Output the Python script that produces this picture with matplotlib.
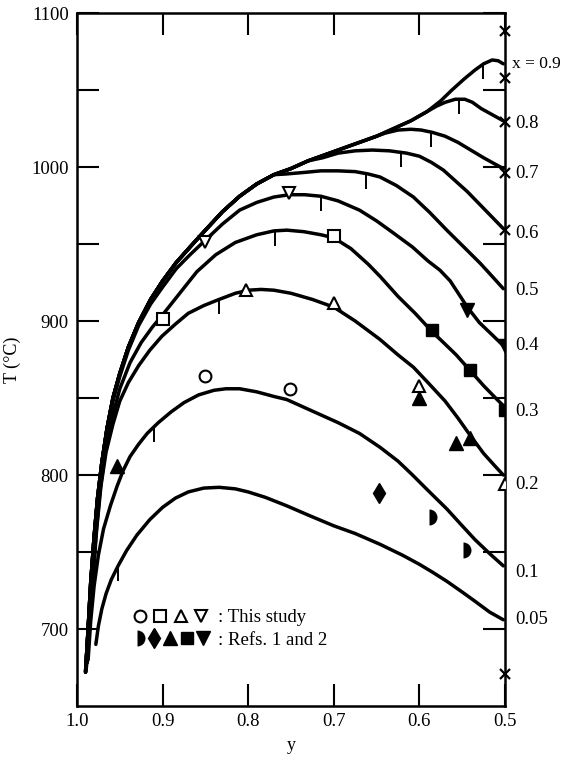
import numpy as np
import matplotlib
matplotlib.use("Agg")
import matplotlib.pyplot as plt
from matplotlib import transforms
from matplotlib.legend_handler import HandlerTuple

# ---------------- data ----------------
x_labels = ["x = 0.9", "0.8", "0.7", "0.6", "0.5", "0.4", "0.3", "0.2", "0.1", "0.05"]

# shared rising branch of the high-x curves
y_env = [0.990, 0.987, 0.984, 0.980, 0.976, 0.971, 0.965, 0.958, 0.950, 0.940, 0.928,
         0.914, 0.900, 0.884, 0.868, 0.850, 0.830, 0.810, 0.790, 0.770]
T_env = [672, 700, 730, 760, 785, 808, 830, 850, 866, 883, 899,
         914, 926, 938, 948, 959, 971, 981, 989, 995]

y_mid = [0.750, 0.730, 0.710, 0.690, 0.670, 0.650]
T_mid = [999, 1004, 1008, 1012, 1016, 1020]

y_x09 = y_env + y_mid + [0.630, 0.610, 0.591, 0.575, 0.562, 0.548, 0.535, 0.525, 0.515, 0.508, 0.502]
T_x09 = T_env + T_mid + [1025, 1030, 1036, 1043, 1050, 1057, 1063, 1067, 1069.5, 1069, 1067]

y_x08 = y_env + y_mid + [0.630, 0.610, 0.591, 0.580, 0.570, 0.558, 0.547, 0.538, 0.528, 0.515, 0.502]
T_x08 = T_env + T_mid + [1025, 1030, 1036, 1039.5, 1042, 1044, 1044, 1042, 1038, 1034, 1030]

y_x07 = y_env + y_mid + [0.640, 0.625, 0.610, 0.598, 0.585, 0.570, 0.555, 0.540, 0.525, 0.512, 0.502]
T_x07 = T_env + T_mid + [1022, 1024, 1024.5, 1024, 1022.5, 1020, 1016, 1011, 1006, 1002, 999]

y_x06 = y_env + [0.750, 0.730, 0.713, 0.695, 0.675, 0.655, 0.635, 0.615, 0.600, 0.586,
                 0.572, 0.558, 0.544, 0.530, 0.516, 0.502]
T_x06 = T_env + [999, 1004, 1006, 1009, 1010.5, 1011, 1010.5, 1009, 1007, 1003,
                 998, 991, 984, 976, 968, 960]

y_x05 = y_env + [0.755, 0.734, 0.715, 0.695, 0.675, 0.660, 0.646, 0.627, 0.607, 0.588,
                 0.568, 0.548, 0.529, 0.515, 0.502]
T_x05 = T_env + [995.5, 996.5, 997.5, 997.5, 997, 995.5, 993.5, 988, 980.5, 970.5,
                 959, 948, 937.5, 929, 921]

y_x04 = [0.990, 0.987, 0.984, 0.980, 0.976, 0.971, 0.965, 0.958, 0.950, 0.940, 0.928, 0.914,
         0.900, 0.884, 0.868, 0.851, 0.830, 0.810, 0.790, 0.770, 0.752, 0.734, 0.715, 0.695,
         0.670, 0.650, 0.630, 0.608, 0.590, 0.576, 0.564, 0.544, 0.530, 0.515, 0.502]
T_x04 = [673, 700, 728, 758, 783, 806, 828, 848, 864, 881, 897, 911,
         922, 934, 943, 952, 963, 972, 977, 980.5, 982, 982, 981, 978,
         972, 965, 957, 948, 939, 933, 926, 909, 899, 891, 884]

y_x03 = [0.989, 0.986, 0.982, 0.978, 0.973, 0.967, 0.960, 0.950, 0.938, 0.925, 0.912, 0.900,
         0.880, 0.860, 0.838, 0.815, 0.790, 0.770, 0.755, 0.735, 0.715, 0.700, 0.680, 0.660,
         0.646, 0.625, 0.605, 0.585, 0.570, 0.557, 0.541, 0.525, 0.511, 0.502]
T_x03 = [675, 700, 730, 760, 790, 815, 835, 856, 873, 886, 896, 904,
         918, 932, 943, 951, 956, 958.5, 959, 958, 956, 954, 947, 937,
         929, 916, 905, 893, 885, 878, 868, 858, 850, 845]

y_x02 = [0.988, 0.985, 0.981, 0.977, 0.972, 0.966, 0.958, 0.950, 0.940, 0.928, 0.915, 0.901,
         0.885, 0.870, 0.852, 0.834, 0.815, 0.800, 0.785, 0.770, 0.750, 0.725, 0.700, 0.675,
         0.646, 0.625, 0.607, 0.590, 0.570, 0.555, 0.541, 0.525, 0.512, 0.502]
T_x02 = [678, 705, 735, 765, 793, 815, 833, 848, 860, 871, 881, 890,
         898, 905, 910, 914, 918, 920, 920.5, 920, 918, 914, 909, 900,
         888, 878, 870, 860, 848, 837, 826, 814, 806, 800]

y_x01 = [0.987, 0.984, 0.980, 0.975, 0.969, 0.961, 0.953, 0.946, 0.938, 0.928, 0.918, 0.905,
         0.890, 0.875, 0.858, 0.840, 0.826, 0.810, 0.790, 0.770, 0.755, 0.735, 0.715, 0.695,
         0.670, 0.646, 0.625, 0.608, 0.590, 0.568, 0.550, 0.535, 0.518, 0.502]
T_x01 = [680, 705, 728, 748, 765, 780, 793, 803, 812, 820, 827, 834,
         841, 847, 852, 855, 856, 856, 854, 851, 849, 844, 839, 834,
         827, 818, 809, 800, 790, 778, 767, 758, 749, 741]

y_x005 = [0.978, 0.975, 0.971, 0.966, 0.960, 0.952, 0.942, 0.930, 0.915, 0.900, 0.885, 0.870,
          0.852, 0.834, 0.815, 0.800, 0.780, 0.755, 0.730, 0.700, 0.675, 0.646, 0.620, 0.600,
          0.585, 0.568, 0.550, 0.535, 0.518, 0.502]
T_x005 = [690, 702, 713, 723, 732, 741, 751, 761, 771, 779, 785, 789,
          791.5, 792, 791, 789, 785.5, 780, 774, 767, 762, 755, 748, 742,
          737, 731, 724, 718, 711, 706]

curves_y = [y_x09, y_x08, y_x07, y_x06, y_x05, y_x04, y_x03, y_x02, y_x01, y_x005]
curves_T = [T_x09, T_x08, T_x07, T_x06, T_x05, T_x04, T_x03, T_x02, T_x01, T_x005]

# temperatures where the x labels sit on the right-hand side
label_T = [1067, 1028, 996, 957, 920, 884, 841, 794, 737, 706]

# small vertical marks hanging from each curve
mark_y = [0.526, 0.554, 0.586, 0.621, 0.662, 0.715, 0.769, 0.834, 0.910, 0.952]

# this study (open symbols)
circ_y, circ_T = [0.850, 0.751], [864, 856]
sq_y, sq_T = [0.900, 0.700], [901, 955]
tri_y, tri_T = [0.803, 0.700, 0.601, 0.500], [920, 912, 858, 794]
itri_y, itri_T = [0.851, 0.752], [951, 983]

# refs 1 and 2 (filled symbols)
half_y, half_T = [0.589, 0.549, 0.500], [773, 751, 737]
dia_y, dia_T = [0.647], [788]
ftri_y, ftri_T = [0.953, 0.600, 0.557, 0.541], [806, 850, 821, 824]
fsq_y, fsq_T = [0.585, 0.541, 0.500], [894, 868, 842]
fitri_y, fitri_T = [0.544, 0.500], [907, 884]

# crosses on the right axis
cross_y = [0.5, 0.5, 0.5, 0.5, 0.5, 0.5]
cross_T = [1088, 1058, 1029, 996, 959, 671]

legend_texts = [": This study", ": Refs. 1 and 2"]

# ---------------- figure ----------------
serif = ["Liberation Serif", "DejaVu Serif"]
plt.rcParams["font.family"] = serif

fig = plt.figure(figsize=(5.63, 7.58), dpi=100)
ax = fig.add_axes([77 / 563, 1 - 706 / 758, (505 - 77) / 563, (706 - 13) / 758])

for ys, Ts in zip(curves_y, curves_T):
    ax.plot(ys, Ts, color="black", lw=2.5, solid_capstyle="round",
            solid_joinstyle="round", zorder=3)

# hanging marks
for ys, Ts, my in zip(curves_y, curves_T, mark_y):
    order = np.argsort(ys)
    tc = np.interp(my, np.array(ys)[order], np.array(Ts)[order])
    ax.plot([my], [tc], marker=[(0, 0), (0, -1)], markersize=22, mew=1.4,
            color="black", zorder=3)

ms = 8.5
h_circ, = ax.plot(circ_y, circ_T, "o", ms=ms, mfc="white", mec="black", mew=1.5, ls="none", zorder=4)
h_sq, = ax.plot(sq_y, sq_T, "s", ms=ms - 0.5, mfc="white", mec="black", mew=1.5, ls="none", zorder=4)
h_tri, = ax.plot(tri_y, tri_T, "^", ms=ms, mfc="white", mec="black", mew=1.5, ls="none", zorder=4)
h_itri, = ax.plot(itri_y, itri_T, "v", ms=ms, mfc="white", mec="black", mew=1.5, ls="none", zorder=4)

h_half, = ax.plot(half_y, half_T, "o", ms=ms + 3, fillstyle="right", mfc="black",
                  markerfacecoloralt="none", mec="none", ls="none", zorder=4)
h_dia, = ax.plot(dia_y, dia_T, "d", ms=ms + 2, color="black", ls="none", zorder=4)
h_ftri, = ax.plot(ftri_y, ftri_T, "^", ms=ms + 1, color="black", ls="none", zorder=4)
h_fsq, = ax.plot(fsq_y, fsq_T, "s", ms=ms, color="black", ls="none", zorder=4)
h_fitri, = ax.plot(fitri_y, fitri_T, "v", ms=ms + 1, color="black", ls="none", zorder=4)
ax.plot(cross_y, cross_T, "x", ms=7, mew=1.6, color="black", ls="none", zorder=5,
        clip_on=False)

# axes
ax.set_xlim(1.0, 0.5)
ax.set_ylim(650, 1100)
ax.set_xticks([1.0, 0.9, 0.8, 0.7, 0.6, 0.5])
ax.set_xticklabels(["1.0", "0.9", "0.8", "0.7", "0.6", "0.5"])
ax.set_yticks([700, 800, 900, 1000, 1100])
ax.set_yticks([750, 850, 950, 1050], minor=True)
ax.tick_params(which="both", direction="in", length=16, width=1.5,
               top=True, right=True, labelsize=13.5)
ax.tick_params(axis="y", pad=6)
ax.tick_params(axis="x", pad=5)
for s in ax.spines.values():
    s.set_linewidth(1.8)

ax.set_ylabel("T (°C)", fontsize=13, labelpad=7)
ax.set_xlabel("y", fontsize=13, labelpad=5)

# curve labels on the right
trans = transforms.blended_transform_factory(ax.transAxes, ax.transData)
for i, (lab, t) in enumerate(zip(x_labels, label_T)):
    ax.text(1.017 if i == 0 else 1.023, t, lab, transform=trans, ha="left",
            va="center", fontsize=12.5 if i == 0 else 13.5)

# legend
leg = ax.legend(
    [(h_circ, h_sq, h_tri, h_itri), (h_half, h_dia, h_ftri, h_fsq, h_fitri)],
    legend_texts,
    handler_map={tuple: HandlerTuple(ndivide=None, pad=0.0)},
    loc="center left", bbox_to_anchor=(0.122, 0.111), frameon=False,
    borderpad=0, borderaxespad=0, handlelength=4.4, handletextpad=0.35,
    labelspacing=0.3, fontsize=13.5, numpoints=1,
)

fig.savefig("out.png", dpi=100)
